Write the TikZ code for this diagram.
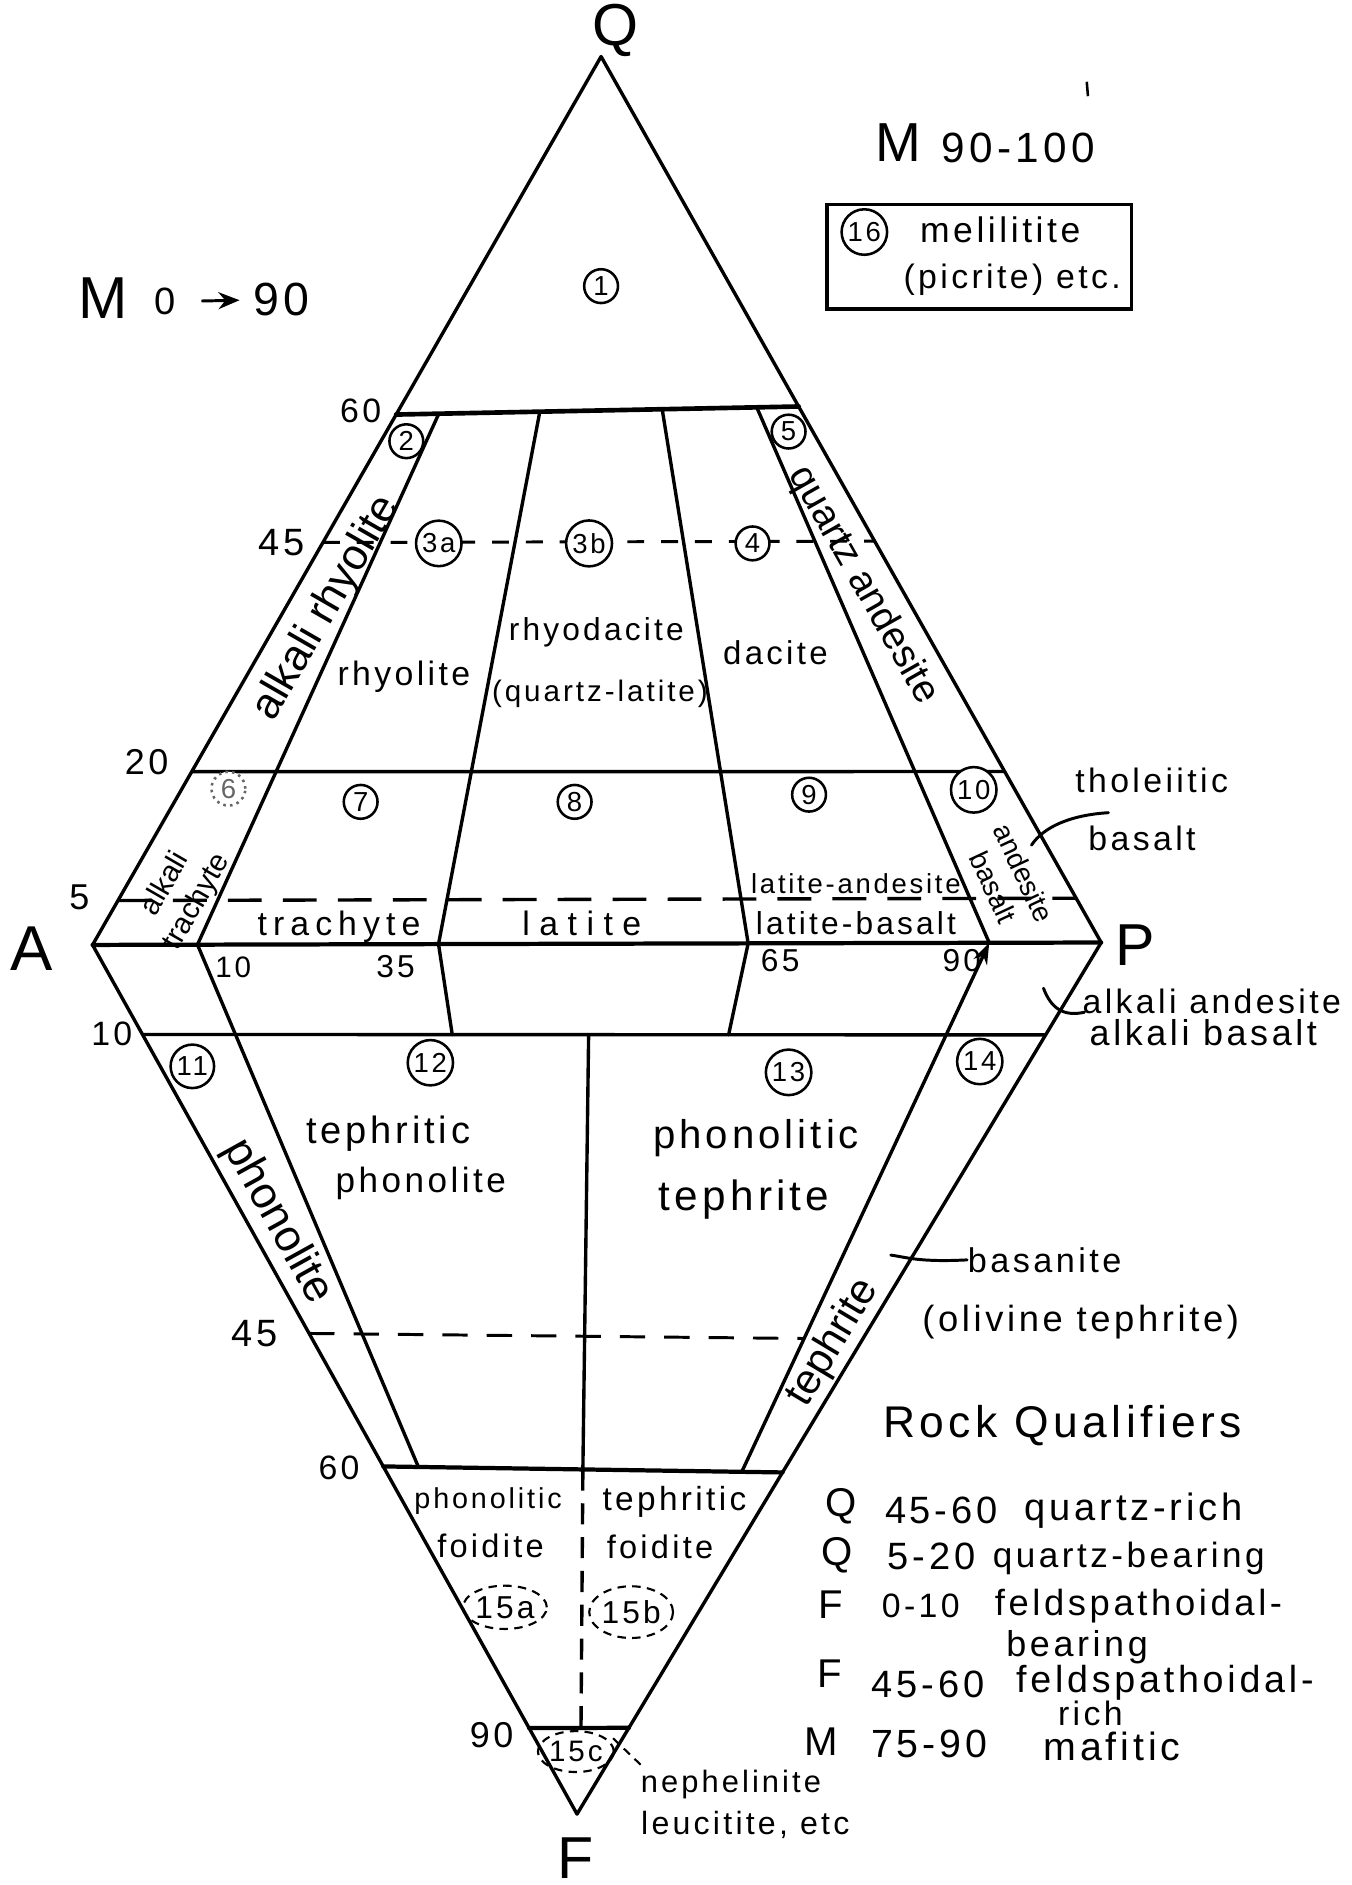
\documentclass[tikz,border=0pt]{standalone}
\usepackage{fontspec}
\setmainfont{Liberation Sans}
\newfontfamily\handfont[LetterSpace=10]{Liberation Sans}
\usetikzlibrary{calc,arrows.meta,shapes.geometric}
\begin{document}
\begin{tikzpicture}[x=0.01cm, y=-0.01cm,
  mainline/.style={line width=0.8pt, line join=round, line cap=round},
  hw/.style={font=\handfont\fontsize{#1}{#1}\selectfont, inner sep=0pt},
  hwr/.style={font=\normalfont\fontsize{#1}{#1}\selectfont, inner sep=0pt},
  cnum/.style={draw, circle, line width=0.6pt, fill=white, inner sep=0.6pt, minimum size=8pt, font=\handfont\fontsize{6.5}{6.5}\selectfont},
  fellipse/.style={draw, ellipse, line width=0.5pt, dash pattern=on 2pt off 1.5pt, inner sep=0pt, font=\handfont\fontsize{7.5}{7.5}\selectfont},
  dashA/.style={line width=0.7pt, dash pattern=on 4pt off 4pt},
  dashB/.style={line width=0.8pt, dash pattern=on 8pt off 5pt},
  dashC/.style={line width=0.7pt, dash pattern=on 6pt off 4.5pt},
  dashD/.style={line width=0.8pt, dash pattern=on 5pt off 3pt},
  leader/.style={line width=0.7pt, line cap=round}
]
\useasboundingbox (0,0) rectangle (1124,1568);
\fill[white] (0,0) rectangle (1124,1568);

% corner points
\coordinate (Q) at (500,47);
\coordinate (A) at (77,786);
\coordinate (P) at (916,784);
\coordinate (F) at (480,1509);

% horizontal division end points
\coordinate (u60L) at ($(Q)!0.403!(A)$);
\coordinate (u60R) at ($(Q)!0.395!(P)$);
\coordinate (u45L) at ($(Q)!0.547!(A)$);
\coordinate (u45R) at ($(Q)!0.547!(P)$);
\coordinate (u20L) at ($(Q)!0.805!(A)$);
\coordinate (u20R) at ($(Q)!0.807!(P)$);
\coordinate (u5L) at ($(Q)!0.95!(A)$);
\coordinate (u5R) at ($(Q)!0.95!(P)$);
\coordinate (l10L) at ($(A)!0.103!(F)$);
\coordinate (l10R) at ($(P)!0.106!(F)$);
\coordinate (l45L) at ($(A)!0.447!(F)$);
\coordinate (l60L) at ($(A)!0.600!(F)$);
\coordinate (l60R) at ($(P)!0.608!(F)$);
\coordinate (l90L) at ($(A)!0.901!(F)$);
\coordinate (l90R) at ($(P)!0.901!(F)$);

% inner division points
\coordinate (a1) at ($(u60L)!0.106!(u60R)$);
\coordinate (a2) at ($(A)!0.104!(P)$);
\coordinate (b1) at ($(u60L)!0.357!(u60R)$);
\coordinate (b2) at ($(A)!0.343!(P)$);
\coordinate (b3) at ($(l10L)!0.343!(l10R)$);
\coordinate (c1) at ($(u60L)!0.661!(u60R)$);
\coordinate (c2) at ($(A)!0.650!(P)$);
\coordinate (c3) at ($(l10L)!0.649!(l10R)$);
\coordinate (d1) at ($(u60L)!0.896!(u60R)$);
\coordinate (d2) at ($(A)!0.889!(P)$);
\coordinate (e1) at ($(l60L)!0.088!(l60R)$);
\coordinate (f1) at ($(l10L)!0.494!(l10R)$);
\coordinate (f2) at ($(l60L)!0.5!(l60R)$);
\coordinate (f3) at ($(l90L)!0.52!(l90R)$);
\coordinate (g1) at ($(l60L)!0.898!(l60R)$);
\coordinate (l45R) at ($(d2)!0.748!(g1)$);

% outline and divisions
\draw[mainline] (Q) -- (A) -- (F) -- (P) -- cycle;
\draw[mainline, line width=1.1pt] (u60L) -- (u60R);
\draw[mainline] (u20L) -- (u20R);
\draw[mainline, line width=1pt] (A) -- (P);
\draw[mainline] (l10L) -- (l10R);
\draw[mainline, line width=1pt] (l60L) -- (l60R);
\draw[mainline, line width=1pt] (l90L) -- (l90R);
\draw[mainline] (a1) -- (a2) -- (e1);
\draw[mainline] (b1) -- (b2) -- (b3);
\draw[mainline] (c1) -- (c2) -- (c3);
\draw[mainline] (d1) -- (d2);
\draw[mainline, -{Stealth[length=5pt,width=3.5pt]}] (g1) -- (d2);
\draw[mainline] (f1) -- (f2);
\draw[dashD] (f2) -- (f3);

% dashed lines
\draw[dashA] (u45L) -- (u45R);
\draw[dashB] (u5L) -- (u5R);
\draw[dashC] (l45L) -- (l45R);

% box
\draw[line width=0.8pt] (688,170) rectangle (941,257);
\draw[line width=0.6pt] (904,68) -- (905,80);

% corner letters
\node[hw=14] (Qlab) at (512,25) {Q};
\node[hw=15] (Alab) at (26,789) {A};
\node[hw=14] (Plab) at (944,786) {P};
\node[hw=14] (Flab) at (479,1546) {F};

% M labels
\node[hw=14] (m1) at (86,248) {M};
\node[hw=9] (m2) at (137,251) {0};
\node[hw=11] (m3) at (234,249) {90};
\draw[line width=0.7pt, -{Stealth[length=5pt,width=4pt]}, shorten <=6pt, shorten >=3pt] (m2) -- (m3);
\node[hw=13] (n1) at (747,119) {M};
\node[hw=10] (n2) at (847,123) {90-100};

% box content
\node[cnum] (c16) at (719,193) {16};
\node[hw=8.4] (mel) at (832,191) {melilitite};
\node[hw=8] (pic) at (842,233) {(picrite) etc.};

% scale numbers
\node[hw=8] (s60) at (300,342) {60};
\node[hw=9] (s45) at (234,451) {45};
\node[hw=8.5] (s20) at (122,634) {20};
\node[hw=8.5] (s5) at (66,746) {5};
\node[hw=8] (s10) at (93,860) {10};
\node[hw=9] (s45b) at (212,1109) {45};
\node[hw=8] (s60b) at (282,1221) {60};
\node[hw=8.5] (s90b) at (409,1443) {90};
\node[hw=7] (p10) at (194,805) {10};
\node[hw=7.5] (p35) at (329,804) {35};
\node[hw=7.5] (p65) at (649,799) {65};
\node[hw=7.5] (p90) at (800,799) {90};

% circled field numbers
\node[cnum] (f01) at (500,238) {1};
\node[cnum] (f02) at (338,367) {2};
\node[cnum] (f3a) at (365,452) {3a};
\node[cnum] (f3b) at (490,452) {3b};
\node[cnum] (f04) at (626,452) {4};
\node[cnum] (f05) at (656,359) {5};
\node[cnum, densely dotted, draw=black!60, text=black!60] (f06) at (190,656) {6};
\node[cnum] (f07) at (300,667) {7};
\node[cnum] (f08) at (478,667) {8};
\node[cnum] (f09) at (673,661) {9};
\node[cnum] (f10) at (810,657) {10};
\node[cnum] (f11) at (160,887) {11};
\node[cnum] (f12) at (358,884) {12};
\node[cnum] (f13) at (656,892) {13};
\node[cnum] (f14) at (815,883) {14};

% rotated names
\node[hwr=10.3, rotate=60] (altrh) at (272,506) {alkali rhyolite};
\node[hwr=9.2, rotate=-60.5] (qand) at (718,487) {quartz andesite};
\node[rotate=60, align=center, inner sep=0pt, font=\normalfont\fontsize{7}{8.6}\selectfont] (altr) at (151,743) {alkali\\trachyte};
\node[rotate=-65, align=center, inner sep=0pt, font=\normalfont\fontsize{6.6}{8}\selectfont] (andb) at (839,732) {andesite\\basalt};
\node[hwr=10.5, rotate=-61] (phon) at (231,1016) {phonolite};
\node[hwr=10, rotate=59] (teph) at (693,1117) {tephrite};

% field names
\node[hw=8] (rhy) at (336,563) {rhyolite};
\node[hw=7.5] (rhd) at (496,526) {rhyodacite};
\node[hw=7] (qlat) at (499,577) {(quartz-latite)};
\node[hw=7.8] (dac) at (645,543) {dacite};
\node[font=\handfont\addfontfeature{LetterSpace=18}\fontsize{8}{8}\selectfont, inner sep=0pt] (tra) at (282,771) {trachyte};
\node[font=\handfont\addfontfeature{LetterSpace=28}\fontsize{8}{8}\selectfont, inner sep=0pt] (lat) at (484,768) {latite};
\node[hw=6.5] (latand) at (712,735) {latite-andesite};
\node[hw=7.5] (latbas) at (712,768) {latite-basalt};
\node[hw=9] (tphr) at (323,943) {tephritic};
\node[hw=8.3] (phl) at (350,984) {phonolite};
\node[hw=9.5] (phnc) at (629,947) {phonolitic};
\node[hw=10] (tphe) at (619,998) {tephrite};
\node[hw=6.8] (pfo1) at (406,1249) {phonolitic};
\node[hw=7.7] (pfo2) at (408,1286) {foidite};
\node[hw=7.9] (tfo1) at (561,1249) {tephritic};
\node[hw=7.7] (tfo2) at (549,1287) {foidite};
\node[fellipse, minimum width=0.62cm, minimum height=0.36cm] (e15a) at (420,1337) {15a};
\node[fellipse, minimum width=0.67cm, minimum height=0.43cm] (e15b) at (525,1341) {15b};
\node[fellipse, minimum width=0.52cm, minimum height=0.34cm, font=\handfont\fontsize{7}{7}\selectfont] (e15c) at (479,1457) {15c};

% outside names with leaders
\node[hw=8] (thol) at (958,649) {tholeiitic};
\node[hw=8] (thb) at (950,697) {basalt};
\coordinate (th1) at (858,703);
\coordinate (th2) at (922,676);
\draw[leader] (th1) .. controls (868,688) and (890,678) .. (th2);

\node[hw=8] (alka) at (1008,833) {alkali andesite};
\node[hw=8.5] (alkb) at (1001,859) {alkali basalt};
\coordinate (ak1) at (868,822);
\coordinate (ak2) at (902,842);
\draw[leader] (ak1) .. controls (874,838) and (884,846) .. (ak2);

\node[hw=8.1] (bas) at (869,1048) {basanite};
\node[hw=8.6] (olv) at (899,1100) {(olivine tephrite)};
\coordinate (bs1) at (741,1044);
\draw[leader] (bs1) .. controls (755,1046) and (765,1050) .. (bas.west);

\node[hw=7.3] (neph) at (608,1484) {nephelinite};
\node[hw=7.6] (leuc) at (620,1518) {leucitite, etc};
\coordinate (np1) at (510,1446);
\coordinate (np2) at (533,1468);
\draw[line width=0.5pt, dash pattern=on 2pt off 1.5pt] (np1) -- (np2);

% rock qualifiers
\node[hw=10.5] (rq) at (884,1186) {Rock Qualifiers};
\node[hw=9.5] (q1a) at (700,1253) {Q};
\node[hw=9] (q1b) at (783,1256) {45-60};
\node[hw=9] (q1c) at (943,1257) {quartz-rich};
\node[hw=9.5] (q2a) at (696,1294) {Q};
\node[hw=9] (q2b) at (775,1295) {5-20};
\node[hw=8.3] (q2c) at (939,1296) {quartz-bearing};
\node[hw=9.5] (q3a) at (691,1335) {F};
\node[hw=8] (q3b) at (766,1336) {0-10};
\node[hw=8.6] (q3c) at (947,1336) {feldspathoidal-};
\node[hw=8.5] (q3d) at (896,1370) {bearing};
\node[hw=9.5] (q4a) at (690,1392) {F};
\node[hw=9] (q4b) at (772,1401) {45-60};
\node[hw=8.9] (q4c) at (969,1400) {feldspathoidal-};
\node[hw=8] (q4d) at (907,1425) {rich};
\node[hw=9.5] (q5a) at (683,1449) {M};
\node[hw=9.3] (q5b) at (773,1451) {75-90};
\node[hw=9.3] (q5c) at (925,1453) {mafitic};
\end{tikzpicture}
\end{document}
